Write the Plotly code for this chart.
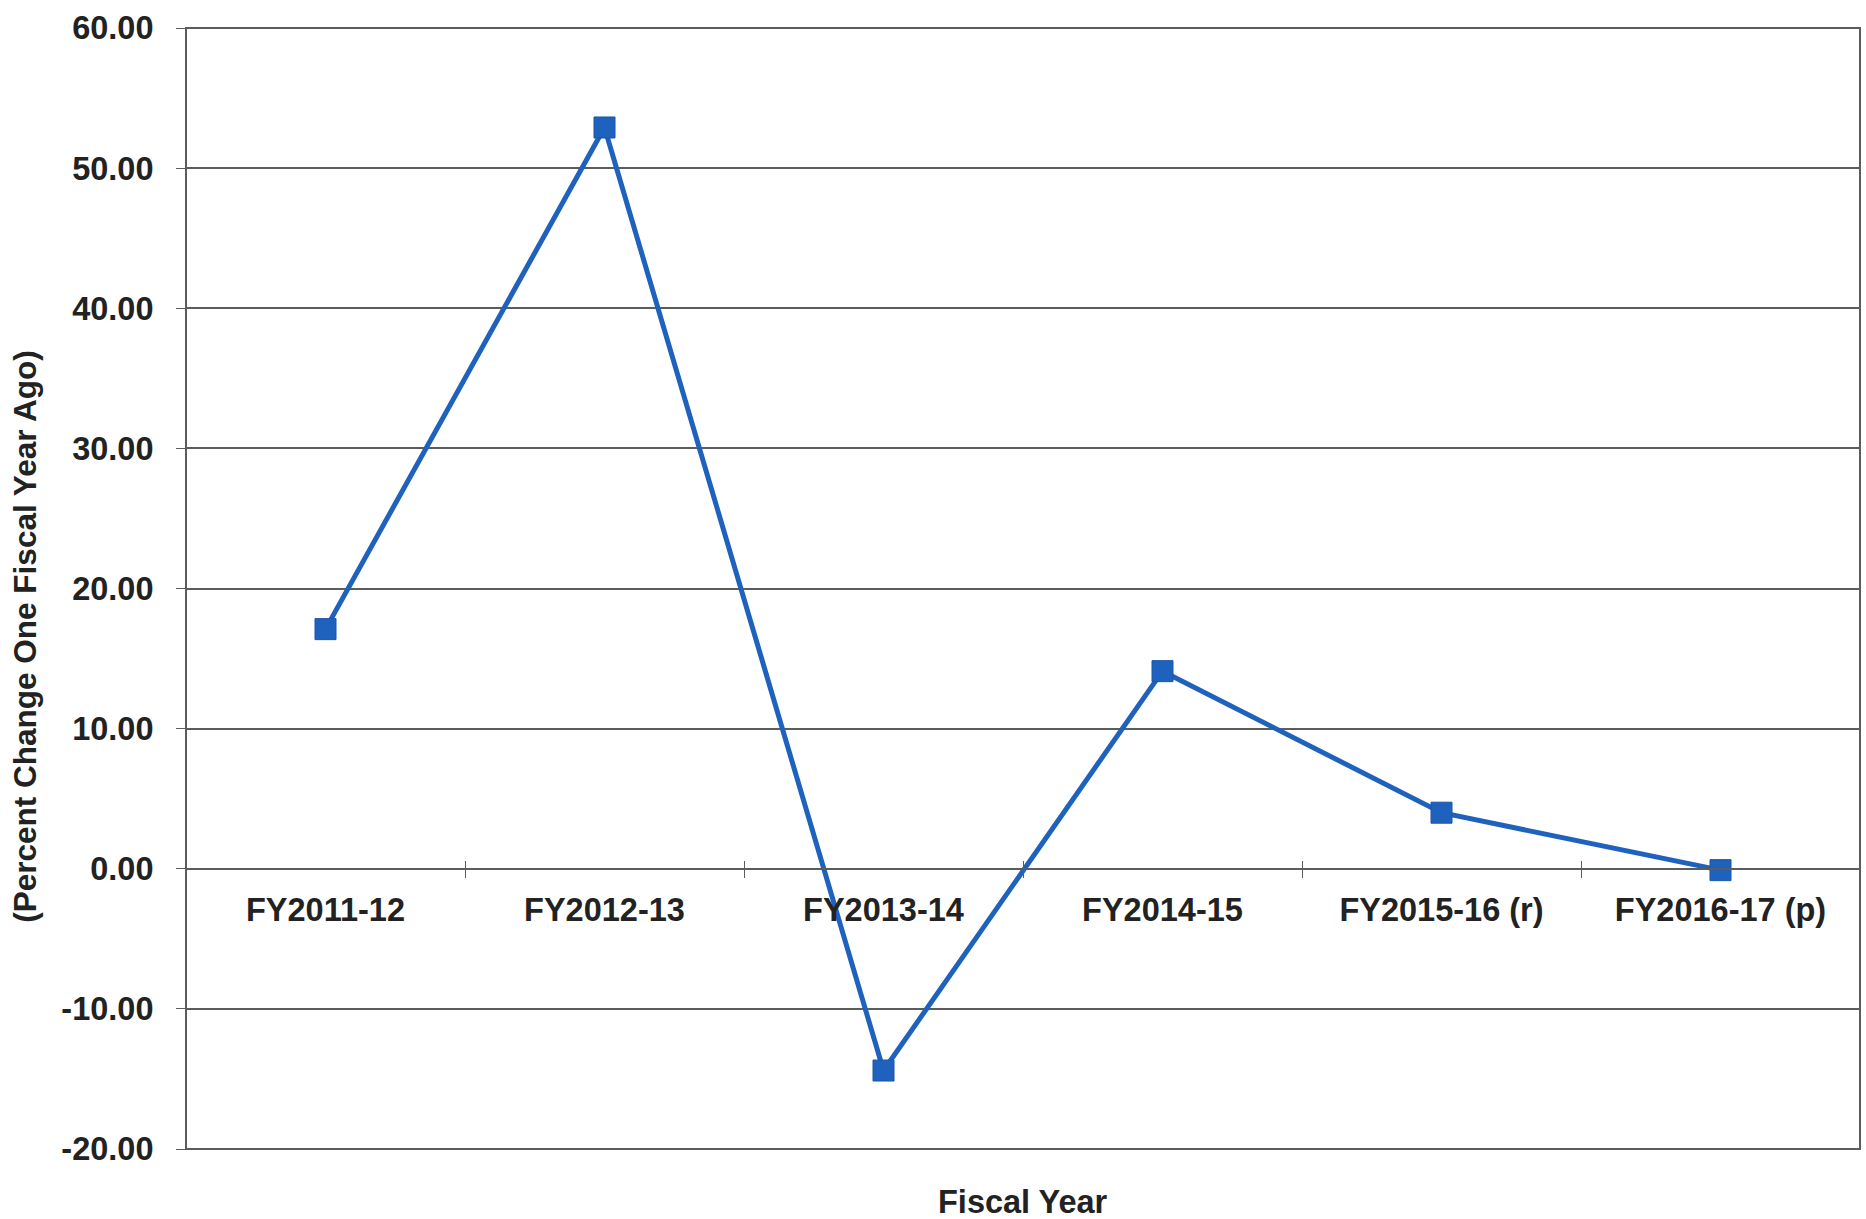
import plotly.graph_objects as go

# Fiscal years and percent change from the prior fiscal year
fiscal_years = ["FY2011-12", "FY2012-13", "FY2013-14", "FY2014-15",
                "FY2015-16 (r)", "FY2016-17 (p)"]
pct_change = [17.1, 52.9, -14.4, 14.1, 4.0, -0.1]

y_ticks = [-20, -10, 0, 10, 20, 30, 40, 50, 60]
# plain hyphen for negatives, two decimals
y_tick_text = [f"{v:.2f}" for v in y_ticks]

LINE_BLUE = "#1F62BE"
GRID = "#5a5d5a"
FONT = "Liberation Sans, Arial, sans-serif"
TEXT = "#222222"

fig = go.Figure()

fig.add_trace(go.Scatter(
    x=fiscal_years, y=pct_change, mode="lines+markers",
    line=dict(color=LINE_BLUE, width=5),
    marker=dict(symbol="square", size=21, color=LINE_BLUE,
                line=dict(color="#1a55a8", width=1)),
    showlegend=False, hoverinfo="x+y",
))
# invisible copy so the overlay axis carries the upward half of the crossing ticks
fig.add_trace(go.Scatter(
    x=fiscal_years, y=pct_change, mode="markers", xaxis="x2",
    marker=dict(opacity=0), showlegend=False, hoverinfo="skip",
))

axis_pos = (0 - y_ticks[0]) / (y_ticks[-1] - y_ticks[0])

fig.update_layout(
    width=1866, height=1219,
    margin=dict(l=186, r=6, t=28, b=70),
    paper_bgcolor="white", plot_bgcolor="white",
    font=dict(family=FONT, color=TEXT),
    xaxis=dict(
        type="category", categoryarray=fiscal_years, range=[-0.5, 5.5],
        anchor="free", position=axis_pos,
        tickson="boundaries", ticks="outside", ticklen=8, tickcolor=GRID,
        tickwidth=1.2, showgrid=False, zeroline=False,
        showline=True, linecolor=GRID, linewidth=1.5,
        tickfont=dict(family=FONT, size=32.5, color=TEXT, weight="bold"),
        ticklabelstandoff=12,
    ),
    xaxis2=dict(
        type="category", categoryarray=fiscal_years, range=[-0.5, 5.5],
        overlaying="x", anchor="free", position=axis_pos,
        tickson="boundaries", ticks="inside", ticklen=8, tickcolor=GRID,
        tickwidth=1.2, showgrid=False, zeroline=False, showline=False,
        showticklabels=False,
    ),
    yaxis=dict(
        range=[y_ticks[0], y_ticks[-1]], tickvals=y_ticks, ticktext=y_tick_text,
        ticks="outside", ticklen=9, tickcolor=GRID, tickwidth=1.2,
        showgrid=True, gridcolor=GRID, gridwidth=1.5,
        zeroline=False, showline=False,
        tickfont=dict(family=FONT, size=32.5, color=TEXT, weight="bold"),
        ticklabelstandoff=16,
    ),
    shapes=[dict(type="rect", xref="paper", yref="paper", x0=0, x1=1, y0=0, y1=1,
                 line=dict(color=GRID, width=2), fillcolor="rgba(0,0,0,0)",
                 layer="above")],
    annotations=[
        dict(text="Fiscal Year", xref="paper", yref="paper", x=0.5, y=0,
             yshift=-53, xanchor="center", yanchor="middle", showarrow=False,
             font=dict(family=FONT, size=32.5, color=TEXT, weight="bold")),
        dict(text="(Percent Change One Fiscal Year Ago)", xref="paper",
             yref="paper", x=0, y=0.457, xshift=-161, textangle=-90,
             xanchor="center", yanchor="middle", showarrow=False,
             font=dict(family=FONT, size=31.5, color=TEXT, weight="bold")),
    ],
)

fig.write_html("out.html")
